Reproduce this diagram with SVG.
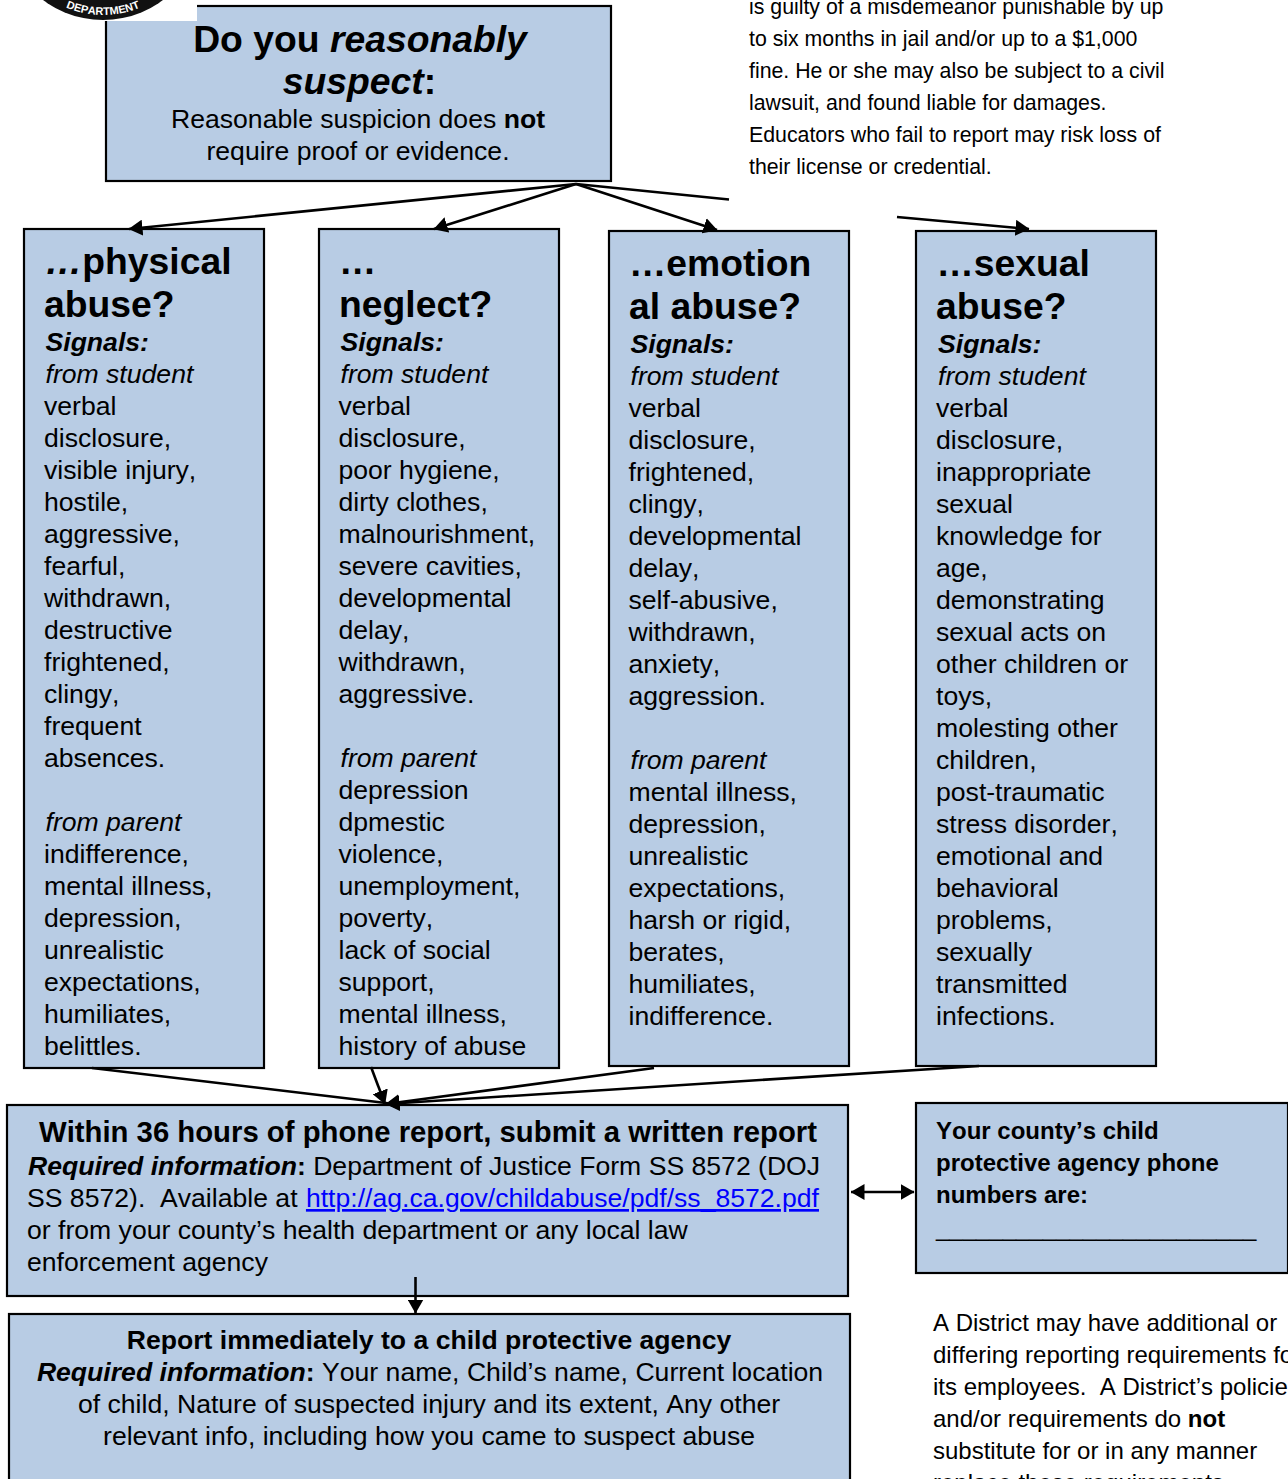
<svg xmlns="http://www.w3.org/2000/svg" width="1288" height="1479" viewBox="0 0 1288 1479">
<style>
text{font-family:"Liberation Sans",Arial,sans-serif;fill:#000;font-kerning:none}
.b{font-size:26.6px}
.h{font-size:37.3px;font-weight:bold}
.n{font-size:21.3px}
.bx{fill:#b8cce4;stroke:#000;stroke-width:2.2}
.c{stroke:#000;stroke-width:2.6;fill:none}
.bo{font-weight:bold}
.i{font-style:italic}
</style>
<defs>
<marker id="a" viewBox="0 0 14 16" refX="13.500" refY="8" markerWidth="14" markerHeight="16" markerUnits="userSpaceOnUse" orient="auto-start-reverse"><path d="M0 0L14 8L0 16z" fill="#000"/></marker>
<path id="arc" d="M53 0.800A95 95 0 0 0 153 0.800" fill="none"/>
</defs>
<rect width="1288" height="1479" fill="#fff"/>
<g id="top-note">
<text class="n"><tspan x="749" y="14">is guilty of a misdemeanor punishable by up</tspan><tspan x="749" y="46">to six months in jail and/or up to a $1,000</tspan><tspan x="749" y="78">fine. He or she may also be subject to a civil</tspan><tspan x="749" y="110">lawsuit, and found liable for damages.</tspan><tspan x="749" y="142">Educators who fail to report may risk loss of</tspan><tspan x="749" y="174">their license or credential.</tspan></text>
</g>
<g id="question">
<rect class="bx" x="106" y="6" width="505" height="175"/>
<rect x="30" y="0" width="167" height="21" fill="#fff"/>
<text class="h" text-anchor="middle" x="360" y="51.500">Do you <tspan class="i">reasonably</tspan></text>
<text class="h" text-anchor="middle" x="359.500" y="94"><tspan class="i">suspect</tspan>:</text>
<text class="b" text-anchor="middle" x="358" y="128">Reasonable suspicion does <tspan class="bo">not</tspan></text>
<text class="b" text-anchor="middle" x="358" y="160">require proof or evidence.</text>
</g>
<g id="logo">
<circle cx="103" cy="-80" r="100" fill="#111"/>
<text font-size="11" font-weight="bold" text-anchor="middle" style="fill:#fff"><textPath href="#arc" startOffset="50%">DEPARTMENT</textPath></text>
</g>
<g id="physical">
<rect class="bx" x="24" y="229" width="240" height="839"/>
<text class="h"><tspan x="45" y="274"><tspan class="i">…</tspan>physical</tspan><tspan x="44" y="317">abuse?</tspan></text>
<text class="b"><tspan x="45.500" y="351" class="bo i">Signals:</tspan><tspan x="45.500" y="383" class="i">from student</tspan><tspan x="44" y="415">verbal</tspan><tspan x="44" y="447">disclosure,</tspan><tspan x="44" y="479">visible injury,</tspan><tspan x="44" y="511">hostile,</tspan><tspan x="44" y="543">aggressive,</tspan><tspan x="44" y="575">fearful,</tspan><tspan x="44" y="607">withdrawn,</tspan><tspan x="44" y="639">destructive</tspan><tspan x="44" y="671">frightened,</tspan><tspan x="44" y="703">clingy,</tspan><tspan x="44" y="735">frequent</tspan><tspan x="44" y="767">absences.</tspan><tspan x="45.500" y="831" class="i">from parent</tspan><tspan x="44" y="863">indifference,</tspan><tspan x="44" y="895">mental illness,</tspan><tspan x="44" y="927">depression,</tspan><tspan x="44" y="959">unrealistic</tspan><tspan x="44" y="991">expectations,</tspan><tspan x="44" y="1023">humiliates,</tspan><tspan x="44" y="1055">belittles.</tspan></text>
</g>
<g id="neglect">
<rect class="bx" x="319" y="229" width="240" height="839"/>
<text class="h"><tspan x="339" y="274">…</tspan><tspan x="339" y="317">neglect?</tspan></text>
<text class="b"><tspan x="340.500" y="351" class="bo i">Signals:</tspan><tspan x="340.500" y="383" class="i">from student</tspan><tspan x="338.500" y="415">verbal</tspan><tspan x="338.500" y="447">disclosure,</tspan><tspan x="338.500" y="479">poor hygiene,</tspan><tspan x="338.500" y="511">dirty clothes,</tspan><tspan x="338.500" y="543">malnourishment,</tspan><tspan x="338.500" y="575">severe cavities,</tspan><tspan x="338.500" y="607">developmental</tspan><tspan x="338.500" y="639">delay,</tspan><tspan x="338.500" y="671">withdrawn,</tspan><tspan x="338.500" y="703">aggressive.</tspan><tspan x="340.500" y="767" class="i">from parent</tspan><tspan x="338.500" y="799">depression</tspan><tspan x="338.500" y="831">dpmestic</tspan><tspan x="338.500" y="863">violence,</tspan><tspan x="338.500" y="895">unemployment,</tspan><tspan x="338.500" y="927">poverty,</tspan><tspan x="338.500" y="959">lack of social</tspan><tspan x="338.500" y="991">support,</tspan><tspan x="338.500" y="1023">mental illness,</tspan><tspan x="338.500" y="1055">history of abuse</tspan></text>
</g>
<g id="emotional">
<rect class="bx" x="609" y="231" width="240" height="835"/>
<text class="h"><tspan x="629" y="276">…emotion</tspan><tspan x="629" y="319">al abuse?</tspan></text>
<text class="b"><tspan x="630.500" y="353" class="bo i">Signals:</tspan><tspan x="630.500" y="385" class="i">from student</tspan><tspan x="628.500" y="417">verbal</tspan><tspan x="628.500" y="449">disclosure,</tspan><tspan x="628.500" y="481">frightened,</tspan><tspan x="628.500" y="513">clingy,</tspan><tspan x="628.500" y="545">developmental</tspan><tspan x="628.500" y="577">delay,</tspan><tspan x="628.500" y="609">self-abusive,</tspan><tspan x="628.500" y="641">withdrawn,</tspan><tspan x="628.500" y="673">anxiety,</tspan><tspan x="628.500" y="705">aggression.</tspan><tspan x="630.500" y="769" class="i">from parent</tspan><tspan x="628.500" y="801">mental illness,</tspan><tspan x="628.500" y="833">depression,</tspan><tspan x="628.500" y="865">unrealistic</tspan><tspan x="628.500" y="897">expectations,</tspan><tspan x="628.500" y="929">harsh or rigid,</tspan><tspan x="628.500" y="961">berates,</tspan><tspan x="628.500" y="993">humiliates,</tspan><tspan x="628.500" y="1025">indifference.</tspan></text>
</g>
<g id="sexual">
<rect class="bx" x="916" y="231" width="240" height="835"/>
<text class="h"><tspan x="936.500" y="276">…sexual</tspan><tspan x="936" y="319">abuse?</tspan></text>
<text class="b"><tspan x="938" y="353" class="bo i">Signals:</tspan><tspan x="938" y="385" class="i">from student</tspan><tspan x="936" y="417">verbal</tspan><tspan x="936" y="449">disclosure,</tspan><tspan x="936" y="481">inappropriate</tspan><tspan x="936" y="513">sexual</tspan><tspan x="936" y="545">knowledge for</tspan><tspan x="936" y="577">age,</tspan><tspan x="936" y="609">demonstrating</tspan><tspan x="936" y="641">sexual acts on</tspan><tspan x="936" y="673">other children or</tspan><tspan x="936" y="705">toys,</tspan><tspan x="936" y="737">molesting other</tspan><tspan x="936" y="769">children,</tspan><tspan x="936" y="801">post-traumatic</tspan><tspan x="936" y="833">stress disorder,</tspan><tspan x="936" y="865">emotional and</tspan><tspan x="936" y="897">behavioral</tspan><tspan x="936" y="929">problems,</tspan><tspan x="936" y="961">sexually</tspan><tspan x="936" y="993">transmitted</tspan><tspan x="936" y="1025">infections.</tspan></text>
</g>
<g id="written-report">
<rect class="bx" x="7" y="1105" width="841" height="191"/>
<text font-size="29.3" class="bo" x="428" y="1142" text-anchor="middle">Within 36 hours of phone report, submit a written report</text>
<text class="b"><tspan x="28" y="1175"><tspan class="bo i">Required information</tspan><tspan class="bo">:</tspan> Department of Justice Form SS 8572 (DOJ</tspan><tspan x="27" y="1207" xml:space="preserve">SS 8572).  Available at <tspan dx="1" style="fill:#00f" text-decoration="underline">http://ag.ca.gov/childabuse/pdf/ss_8572.pdf</tspan></tspan><tspan x="27" y="1239">or from your county’s health department or any local law</tspan><tspan x="27" y="1271">enforcement agency</tspan></text>
</g>
<g id="phone-numbers">
<rect class="bx" x="916" y="1103" width="372" height="170"/>
<text class="bo" font-size="24"><tspan x="936" y="1139">Your county’s child</tspan><tspan x="936" y="1171">protective agency phone</tspan><tspan x="936" y="1203">numbers are:</tspan></text>
<text font-size="24" x="936" y="1236">________________________</text>
</g>
<g id="report-now">
<rect class="bx" x="9" y="1314" width="841" height="175"/>
<text class="b bo" x="429" y="1349" text-anchor="middle">Report immediately to a child protective agency</text>
<text class="b" text-anchor="middle"><tspan x="430" y="1381"><tspan class="bo i">Required information</tspan><tspan class="bo">:</tspan> Your name, Child’s name, Current location</tspan><tspan x="429" y="1413">of child, Nature of suspected injury and its extent, Any other</tspan><tspan x="429" y="1445">relevant info, including how you came to suspect abuse</tspan></text>
</g>
<g id="district-note">
<text font-size="24"><tspan x="933" y="1331">A District may have additional or</tspan><tspan x="933" y="1363">differing reporting requirements for</tspan><tspan x="933" y="1395" xml:space="preserve">its employees.  A District’s policies</tspan><tspan x="933" y="1427">and/or requirements do <tspan class="bo">not</tspan></tspan><tspan x="933" y="1459">substitute for or in any manner</tspan><tspan x="933" y="1491">replace these requirements</tspan></text>
</g>
<g id="connectors">
<path class="c" marker-end="url(#a)" d="M576 184L129 229"/>
<path class="c" marker-end="url(#a)" d="M576 184L434 229"/>
<path class="c" marker-end="url(#a)" d="M576 184L717 230"/>
<path class="c" d="M576 184L729 199.500"/>
<path class="c" marker-end="url(#a)" d="M897 217L1029 229"/>
<path class="c" d="M92 1068L390 1103.500"/>
<path class="c" marker-end="url(#a)" d="M371 1067L385 1104"/>
<path class="c" marker-end="url(#a)" d="M654 1068L386 1104"/>
<path class="c" marker-end="url(#a)" d="M979 1066L386 1104"/>
<path class="c" marker-end="url(#a)" d="M415.500 1277L415.500 1313"/>
<path class="c" marker-start="url(#a)" marker-end="url(#a)" d="M851 1192L914 1192"/>
</g>
</svg>
